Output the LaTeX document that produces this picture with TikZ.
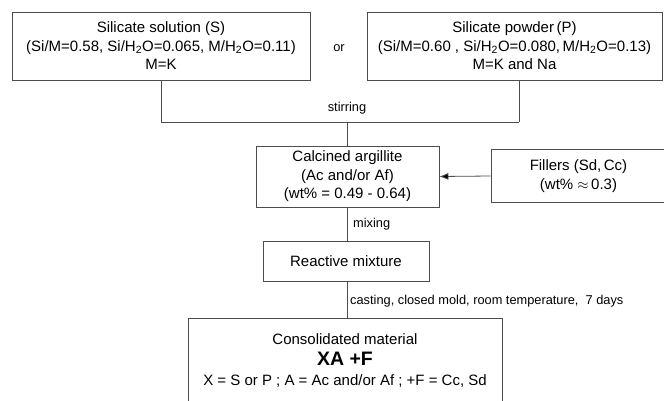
\documentclass[tikz,border=0pt]{standalone}
\usepackage{fontspec}
\setmainfont{Liberation Sans}
\usetikzlibrary{arrows.meta}
\begin{document}
\begin{tikzpicture}[x=1pt,y=-1pt,
  box/.style={draw=black!70,line width=0.8pt,inner sep=0pt,align=center,
    font=\fontsize{15}{18.5}\selectfont},
  lbl/.style={inner sep=0pt,font=\fontsize{12.8}{15}\selectfont},
  conn/.style={draw=black!70,line width=0.8pt}]
\useasboundingbox (0,0) rectangle (664,401);
\clip (0,0) rectangle (664,401);
\node[box,minimum width=298pt,minimum height=68pt] (S) at (161,46)
  {Silicate solution (S)\\(Si/M=0.58, Si/H\textsubscript{2}O=0.065, M/H\textsubscript{2}O=0.11)\\M=K};
\node[box,minimum width=295pt,minimum height=68pt] (P) at (514.5,46)
  {Silicate powder\,(P)\\(Si/M=0.60 , Si/H\textsubscript{2}O=0.080,\,M/H\textsubscript{2}O=0.13)\\M=K and Na};
\node[lbl] (or) at (339,48) {or};
\node[box,minimum width=183pt,minimum height=61pt] (C) at (347.5,176.5)
  {Calcined argillite\\(Ac and/or Af)\\(wt\% = 0.49 - 0.64)};
\node[box,minimum width=175pt,minimum height=53pt] (F) at (578.5,176)
  {Fillers (Sd,\,Cc)\\(wt\% $\approx$\,0.3)};
\node[box,minimum width=166pt,minimum height=40pt] (R) at (346,261)
  {Reactive mixture};
\node[box,minimum width=314pt,minimum height=86pt,font=\fontsize{15}{20.5}\selectfont] (X) at (345,361)
  {Consolidated material\\{\fontsize{19.5}{20.5}\selectfont\bfseries XA +F}\\X = S or P ; A = Ac and/or Af ; +F = Cc, Sd};
\coordinate (jl) at (161,122);
\coordinate (j) at (347,122);
\coordinate (jr) at (519,122);
\draw[conn] (S.south) -- (jl) -- (jr);
\draw[conn] (jr |- P.south) -- (jr);
\draw[conn] (j) -- (j |- C.north);
\node[lbl] (stir) at (347,108) {stirring};
\draw[conn,-{Latex[length=9pt,width=7pt,fill=black]}] (F.west) -- (C.east);
\draw[conn] (C.south -| j) -- (R.north -| j);
\node[lbl,anchor=west] (mix) at (353,224) {mixing};
\draw[conn] (R.south -| j) -- (X.north -| j);
\node[lbl,anchor=west] (cast) at (350,301) {casting, closed mold, room temperature,\ \ 7 days};
\end{tikzpicture}
\end{document}
